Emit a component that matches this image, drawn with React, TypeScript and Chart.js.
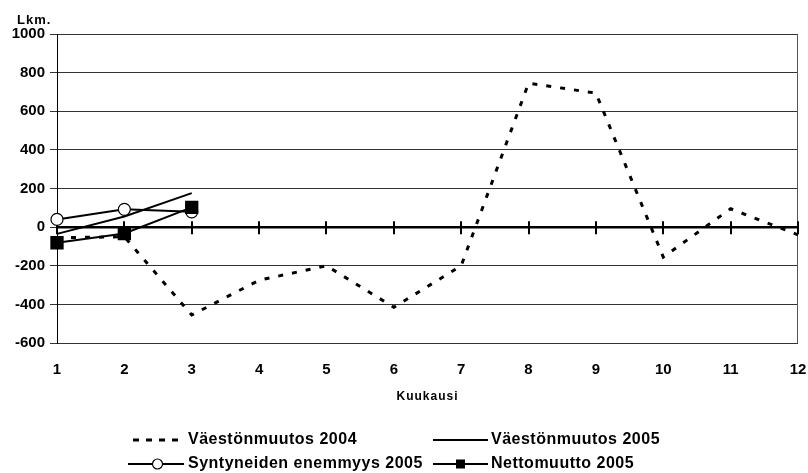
import React, { useEffect, useRef } from 'react';
import { Chart, registerables } from 'chart.js';

Chart.register(...registerables);

const months = ['1', '2', '3', '4', '5', '6', '7', '8', '9', '10', '11', '12'];
const vaestonmuutos2004 = [-55, -50, -455, -275, -200, -415, -200, 745, 694, -155, 95, -40];
const vaestonmuutos2005 = [-35, 55, 176];
const syntyneet2005 = [40, 92, 79];
const nettomuutto2005 = [-81, -33, 102];
const yMin = -600;
const yMax = 1000;
const yStep = 200;
const legendLabels = [
  'Väestönmuutos 2004',
  'Väestönmuutos 2005',
  'Syntyneiden enemmyys 2005',
  'Nettomuutto 2005',
];
const yTitle = 'Lkm.';
const xTitle = 'Kuukausi';

const FONT = "'Liberation Sans', Arial, sans-serif";

const decorPlugin = {
  id: 'decor',
  beforeDatasetsDraw(chart: any) {
    const { ctx, chartArea, scales } = chart;
    const x = scales.x;
    const y = scales.y;
    const y0 = y.getPixelForValue(0);
    ctx.save();
    // right border
    ctx.strokeStyle = '#555';
    ctx.lineWidth = 1;
    ctx.beginPath();
    ctx.moveTo(chartArea.right - 0.5, chartArea.top);
    ctx.lineTo(chartArea.right - 0.5, chartArea.bottom);
    ctx.stroke();
    // zero axis line with tick marks
    ctx.strokeStyle = '#000';
    ctx.lineWidth = 2.5;
    ctx.beginPath();
    ctx.moveTo(chartArea.left, y0);
    ctx.lineTo(chartArea.right, y0);
    ctx.stroke();
    ctx.lineWidth = 2;
    for (let i = 0; i < months.length; i++) {
      const px = Math.round(x.getPixelForValue(i));
      ctx.beginPath();
      ctx.moveTo(px, y0 - 6);
      ctx.lineTo(px, y0 + 7);
      ctx.stroke();
    }
    ctx.restore();
  },
  afterDraw(chart: any) {
    const { ctx, chartArea } = chart;
    ctx.save();
    ctx.fillStyle = '#000';
    ctx.textBaseline = 'middle';
    ctx.letterSpacing = '1px';
    // y title
    ctx.font = `bold 13px ${FONT}`;
    ctx.textAlign = 'left';
    ctx.fillText(yTitle, 17, 20);
    // x title
    ctx.font = `bold 12px ${FONT}`;
    ctx.textAlign = 'center';
    ctx.fillText(xTitle, (chartArea.left + chartArea.right) / 2, 397);

    // legend
    ctx.letterSpacing = '0.5px';
    ctx.font = `bold 16px ${FONT}`;
    ctx.textAlign = 'left';
    const row1 = 440;
    const row2 = 464;
    const c1s = 131, c1e = 184, c1t = 188;
    const c2s = 433, c2e = 488, c2t = 491;
    ctx.strokeStyle = '#000';
    ctx.lineWidth = 3;
    // dashed
    ctx.setLineDash([6, 7]);
    ctx.beginPath();
    ctx.moveTo(c1s + 2, row1);
    ctx.lineTo(c1e, row1);
    ctx.stroke();
    ctx.setLineDash([]);
    ctx.fillText(legendLabels[0], c1t, row1);
    // solid
    ctx.lineWidth = 2;
    ctx.beginPath();
    ctx.moveTo(c2s, row1);
    ctx.lineTo(c2e, row1);
    ctx.stroke();
    ctx.fillText(legendLabels[1], c2t, row1);
    // circle
    ctx.beginPath();
    ctx.moveTo(c1s - 3, row2);
    ctx.lineTo(c1e, row2);
    ctx.stroke();
    ctx.beginPath();
    ctx.arc((c1s + c1e) / 2, row2, 5, 0, Math.PI * 2);
    ctx.fillStyle = '#fff';
    ctx.fill();
    ctx.lineWidth = 1.2;
    ctx.stroke();
    ctx.fillStyle = '#000';
    ctx.fillText(legendLabels[2], c1t, row2);
    // square
    ctx.lineWidth = 2;
    ctx.beginPath();
    ctx.moveTo(c2s, row2);
    ctx.lineTo(c2e, row2);
    ctx.stroke();
    ctx.fillRect((c2s + c2e) / 2 - 4.5, row2 - 4.5, 9, 9);
    ctx.fillText(legendLabels[3], c2t, row2);
    ctx.restore();
  },
};

export default function App() {
  const ref = useRef<HTMLCanvasElement | null>(null);

  useEffect(() => {
    if (!ref.current) return;
    const chart = new Chart(ref.current, {
      type: 'line',
      data: {
        labels: months,
        datasets: [
          {
            label: legendLabels[0],
            data: vaestonmuutos2004,
            borderColor: '#000',
            borderWidth: 3,
            borderDash: [5, 9],
            pointRadius: 0,
            tension: 0,
            order: 4,
          },
          {
            label: legendLabels[1],
            data: vaestonmuutos2005,
            borderColor: '#000',
            borderWidth: 2,
            pointRadius: 0,
            tension: 0,
            order: 3,
          },
          {
            label: legendLabels[2],
            data: syntyneet2005,
            borderColor: '#000',
            borderWidth: 2,
            pointStyle: 'circle',
            pointRadius: 6,
            pointBorderWidth: 1.2,
            pointBackgroundColor: '#fff',
            pointBorderColor: '#000',
            tension: 0,
            order: 2,
          },
          {
            label: legendLabels[3],
            data: nettomuutto2005,
            borderColor: '#000',
            borderWidth: 2,
            pointStyle: 'rect',
            pointRadius: 8,
            pointBackgroundColor: '#000',
            pointBorderColor: '#000',
            tension: 0,
            order: 1,
          },
        ],
      },
      options: {
        responsive: false,
        animation: false,
        devicePixelRatio: 1,
        layout: { padding: { top: 34, right: 10, left: 0, bottom: 0 } },
        plugins: {
          legend: { display: false },
          tooltip: { enabled: false },
        },
        scales: {
          x: {
            type: 'category',
            offset: false,
            grid: { display: false, drawTicks: false },
            border: { display: false },
            ticks: {
              color: '#000',
              padding: 18,
              maxRotation: 0,
              autoSkip: false,
              font: { family: FONT, size: 15, weight: 'bold' },
            },
            afterFit(scale: any) {
              scale.height = 130;
              scale.paddingLeft = 0;
              scale.paddingRight = 0;
            },
          },
          y: {
            min: yMin,
            max: yMax,
            ticks: {
              stepSize: yStep,
              color: '#000',
              padding: 5,
              font: { family: FONT, size: 15, weight: 'bold' },
              callback: (v: any) => String(v),
            },
            grid: {
              color: '#333',
              lineWidth: 1,
              tickLength: 7,
              drawTicks: true,
            },
            border: { display: true, color: '#000', width: 1 },
            afterFit(scale: any) {
              scale.width = 57;
            },
          },
        },
      },
      plugins: [decorPlugin],
    });
    return () => chart.destroy();
  }, []);

  return (
    <div style={{ position: 'fixed', left: 0, top: 0, width: 808, height: 473, background: '#fff' }}>
      <canvas ref={ref} width={808} height={473} style={{ display: 'block' }} />
    </div>
  );
}
